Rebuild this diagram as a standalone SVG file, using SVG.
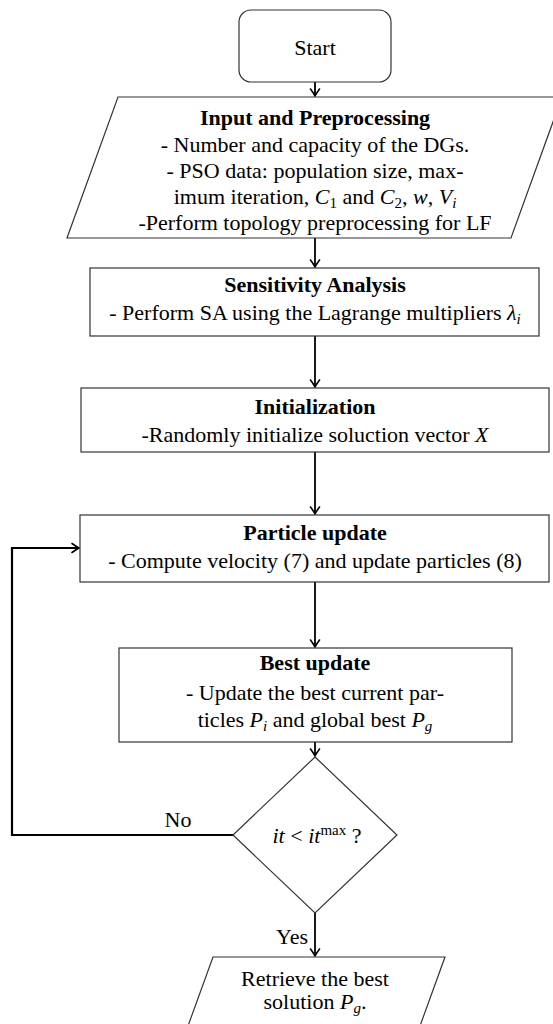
<svg xmlns="http://www.w3.org/2000/svg" width="553" height="1024" viewBox="0 0 553 1024">
<style>
.box{fill:#fff;stroke:#333;stroke-width:1.2}
.t{font-family:"Liberation Serif","Times New Roman",serif;font-size:22px;fill:#000;text-anchor:middle}
.b{font-weight:bold}
.i{font-style:italic}
.c{fill:none;stroke:#000;stroke-width:1.8}
.loop{stroke-width:2.2}
</style>
<defs>
<marker id="ah" viewBox="-8 -6 10 12" refX="0" refY="0" markerWidth="10" markerHeight="12" markerUnits="userSpaceOnUse" orient="auto">
<path d="M -7 -4.5 Q -2.5 -1.2 0 0 Q -2.5 1.2 -7 4.5" fill="none" stroke="#000" stroke-width="1.6" stroke-linecap="round"/>
</marker>
</defs>
<rect width="553" height="1024" fill="#fff"/>
<g id="connectors">
<line class="c" x1="315" y1="82" x2="315" y2="96" marker-end="url(#ah)"/>
<line class="c" x1="315" y1="238" x2="315" y2="267" marker-end="url(#ah)"/>
<line class="c" x1="315" y1="336" x2="315" y2="387" marker-end="url(#ah)"/>
<line class="c" x1="315" y1="452" x2="315" y2="514" marker-end="url(#ah)"/>
<line class="c" x1="315" y1="582" x2="315" y2="647" marker-end="url(#ah)"/>
<line class="c" x1="315" y1="742" x2="315" y2="756" marker-end="url(#ah)"/>
<line class="c" x1="315" y1="913" x2="315" y2="956" marker-end="url(#ah)"/>
<polyline class="c loop" points="233,835 12,835 12,548 79,548" marker-end="url(#ah)"/>
<text class="t" x="178" y="827">No</text>
<text class="t" x="292" y="944">Yes</text>
</g>
<g id="start">
<rect class="box" x="239" y="10" width="152" height="72" rx="12"/>
<text class="t" x="315" y="55">Start</text>
</g>
<g id="input">
<polygon class="box" points="118,97 562,97 511,238 67,238"/>
<text class="t b" x="315" y="125">Input and Preprocessing</text>
<text class="t" x="315" y="152">- Number and capacity of the DGs.</text>
<text class="t" x="315" y="178">- PSO data:  population size, max-</text>
<text class="t" x="315" y="204">imum iteration, <tspan class="i">C</tspan><tspan font-size="15" dy="4">1</tspan><tspan dy="-4"> and </tspan><tspan class="i">C</tspan><tspan font-size="15" dy="4">2</tspan><tspan dy="-4">, </tspan><tspan class="i">w</tspan>, <tspan class="i">V</tspan><tspan class="i" font-size="15" dy="4">i</tspan></text>
<text class="t" x="315" y="230">-Perform topology preprocessing for LF</text>
</g>
<g id="sensitivity">
<rect class="box" x="90" y="268" width="449" height="68"/>
<text class="t b" x="315" y="292">Sensitivity Analysis</text>
<text class="t" x="315" y="320">- Perform SA using the Lagrange multipliers <tspan class="i">λ</tspan><tspan class="i" font-size="15" dy="4">i</tspan></text>
</g>
<g id="initialization">
<rect class="box" x="81" y="388" width="468" height="64"/>
<text class="t b" x="315" y="414">Initialization</text>
<text class="t" x="315" y="442">-Randomly initialize soluction vector <tspan class="i">X</tspan></text>
</g>
<g id="particle">
<rect class="box" x="80" y="515" width="469" height="67"/>
<text class="t b" x="315" y="540">Particle update</text>
<text class="t" x="315" y="568">- Compute velocity (7) and update particles (8)</text>
</g>
<g id="best">
<rect class="box" x="119" y="648" width="393" height="94"/>
<text class="t b" x="315" y="670">Best update</text>
<text class="t" x="315" y="700">- Update the best current par-</text>
<text class="t" x="315" y="727">ticles <tspan class="i">P</tspan><tspan class="i" font-size="15" dy="4">i</tspan><tspan dy="-4"> and global best </tspan><tspan class="i">P</tspan><tspan class="i" font-size="15" dy="4">g</tspan></text>
</g>
<g id="decision">
<polygon class="box" points="315,757 397,835 315,913 233,835"/>
<text class="t" x="317" y="843"><tspan class="i">it</tspan> &lt; <tspan class="i">it</tspan><tspan font-size="15" dy="-8">max</tspan><tspan dy="8"> ?</tspan></text>
</g>
<g id="output">
<polygon class="box" points="213,957 445,957 416,1037 184,1037"/>
<text class="t" x="315" y="986">Retrieve the best</text>
<text class="t" x="315" y="1009">solution <tspan class="i">P</tspan><tspan class="i" font-size="15" dy="4">g</tspan><tspan dy="-4">.</tspan></text>
</g>
</svg>
